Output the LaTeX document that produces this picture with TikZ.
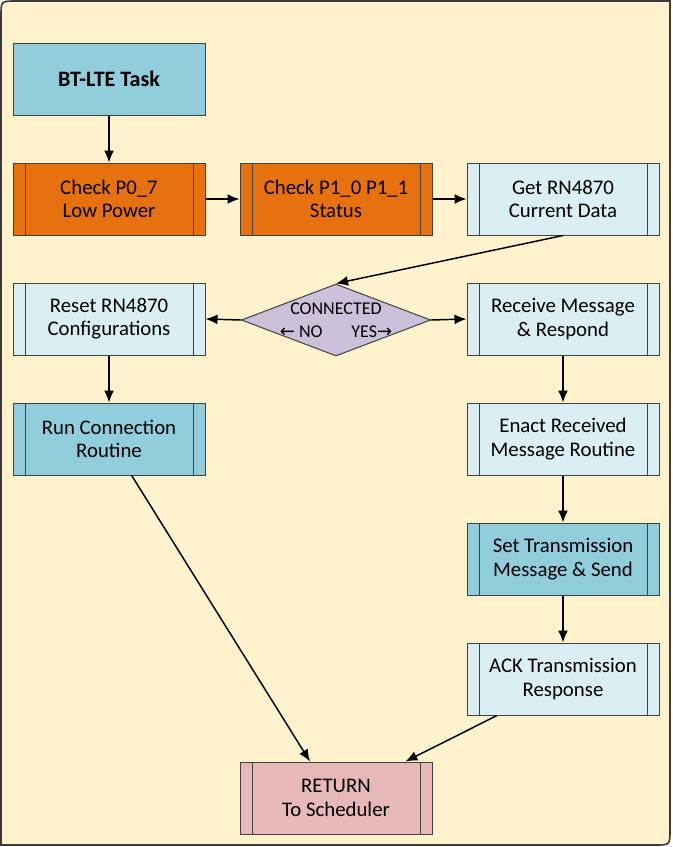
\documentclass[tikz,border=0pt]{standalone}
\usepackage{fontspec}
\setmainfont{Carlito}
\newfontfamily\arrowfont{DejaVu Sans}
\usetikzlibrary{shapes.geometric,arrows.meta}
\definecolor{paper}{HTML}{FFF2CC}
\definecolor{frameline}{HTML}{3A3A3A}
\definecolor{edge}{HTML}{404040}
\definecolor{darkcyan}{HTML}{92CDDC}
\definecolor{palecyan}{HTML}{DAEEF3}
\definecolor{burnt}{RGB}{231,113,15}
\definecolor{lilac}{HTML}{CCC1DA}
\definecolor{rose}{HTML}{E6B9B8}
\newcommand{\boxfont}{\fontsize{15.6}{17.5}\selectfont}

\begin{document}
\begin{tikzpicture}[x=0.75pt, y=-0.75pt, >={Latex[length=9pt,width=7.5pt]},
 every node/.style={font=\boxfont, align=center, text=black},
 box/.style={draw=edge, line width=0.75pt, minimum width=144pt, minimum height=54pt, inner sep=0pt},
 sub/.style={box, path picture={
   \draw[edge, line width=0.75pt] ([xshift=9pt]path picture bounding box.north west) -- ([xshift=9pt]path picture bounding box.south west);
   \draw[edge, line width=0.75pt] ([xshift=-9pt]path picture bounding box.north east) -- ([xshift=-9pt]path picture bounding box.south east);}},
 dec/.style={draw=edge, line width=0.75pt, fill=lilac, diamond, aspect=2.625, minimum width=142pt, minimum height=54pt,
   inner xsep=-16pt, inner ysep=0pt, font=\fontsize{13.5}{17}\selectfont},
 flow/.style={->, line width=1.1pt}]
 \useasboundingbox (0,0) rectangle (672,847);
 % background panel
 \draw[line width=1.2pt, draw=frameline, fill=paper] (1,845) -- (1,16) .. controls (1,1) .. (16,1) -- (670,1)
   -- (670,830) .. controls (670,845) .. (655,845) -- cycle;
 % start and status checks
 \node[box, fill=darkcyan, font=\fontsize{16.5}{18}\selectfont\bfseries] (task) at (109,79) {BT-LTE Task};
 \node[sub, fill=burnt] (p07) at (109,199) {Check P0\_7\\Low Power};
 \node[sub, fill=burnt] (p1) at (336,199) {Check P1\_0 P1\_1\\Status};
 \node[sub, fill=palecyan] (get) at (563,199) {Get RN4870\\Current Data};
 % decision
 \node[dec] (conn) at (336,320) {CONNECTED\\{\arrowfont ←}~NO\hspace{1.6em}YES{\arrowfont →}};
 \node[sub, fill=palecyan] (reset) at (109,319) {Reset RN4870\\Configurations};
 \node[sub, fill=palecyan] (recv) at (563,319) {Receive Message\\\& Respond};
 % NO branch
 \node[sub, fill=darkcyan] (run) at (109,439) {Run Connection\\Routine};
 % YES branch
 \node[sub, fill=palecyan] (enact) at (563,439) {Enact Received\\Message Routine};
 \node[sub, fill=darkcyan] (send) at (563,559) {Set Transmission\\Message \& Send};
 \node[sub, fill=palecyan] (ack) at (563,679) {ACK Transmission\\Response};
 % end
 \node[sub, fill=rose] (ret) at (336,798) {RETURN\\To Scheduler};

 \draw[flow] (task) -- (p07);
 \draw[flow] (p07) -- (p1);
 \draw[flow] (p1) -- (get);
 \draw[flow] (get.south) -- (conn.north);
 \draw[flow] (conn.west) -- (reset.east);
 \draw[flow] (conn.east) -- (recv.west);
 \draw[flow] (reset) -- (run);
 \draw[flow] (recv) -- (enact);
 \draw[flow] (enact) -- (send);
 \draw[flow] (send) -- (ack);
 \draw[flow] ([xshift=17pt]run.south) -- ([xshift=-19.5pt]ret.north);
 \draw[flow] ([xshift=-49.5pt]ack.south) -- ([xshift=52pt]ret.north);
\end{tikzpicture}
\end{document}
